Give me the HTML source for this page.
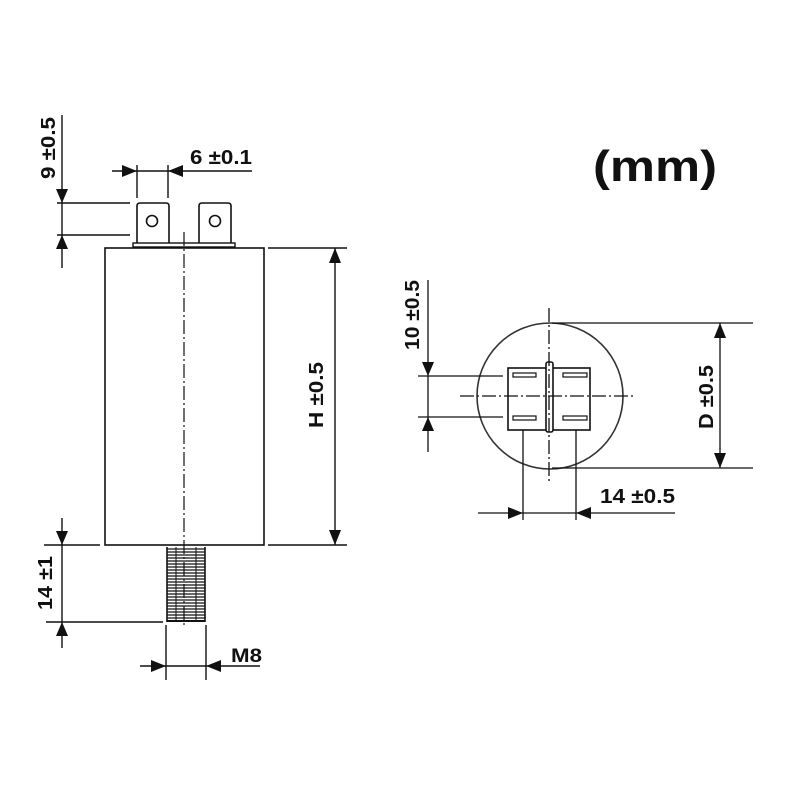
<!DOCTYPE html>
<html><head><meta charset="utf-8"><style>
html,body{margin:0;padding:0;background:#fff;}
svg{display:block;}
text{font-family:"Liberation Sans",sans-serif;font-weight:bold;fill:#111;}
</style></head><body>
<svg width="800" height="800" viewBox="0 0 800 800" xmlns="http://www.w3.org/2000/svg">
<g stroke="#111" stroke-width="1.6" fill="none">
<rect x="105" y="248" width="159" height="297"/>
<rect x="133" y="243" width="102" height="4" stroke-width="1.4"/>
<path d="M137 243 V206 Q137 203 140 203 H166 Q169 203 169 206 V243"/>
<path d="M199 243 V206 Q199 203 202 203 H228 Q231 203 231 206 V243"/>
<circle cx="152" cy="221" r="5.5"/>
<circle cx="215" cy="221" r="5.5"/>
<line x1="184" y1="232" x2="184" y2="625" stroke-width="1.2" stroke-dasharray="14,3,2,3"/>
<line x1="167" y1="547" x2="167" y2="622"/>
<line x1="205" y1="547" x2="205" y2="622"/>
<line x1="176" y1="547" x2="176" y2="622" stroke-width="1"/>
<line x1="196" y1="547" x2="196" y2="622" stroke-width="1"/>
</g>
<g stroke="#111" stroke-width="1.3">
<line x1="167" y1="549" x2="205" y2="549"/><line x1="167" y1="552" x2="205" y2="552"/><line x1="167" y1="555" x2="205" y2="555"/><line x1="167" y1="558" x2="205" y2="558"/><line x1="167" y1="561" x2="205" y2="561"/><line x1="167" y1="564" x2="205" y2="564"/><line x1="167" y1="567" x2="205" y2="567"/><line x1="167" y1="570" x2="205" y2="570"/><line x1="167" y1="573" x2="205" y2="573"/><line x1="167" y1="576" x2="205" y2="576"/><line x1="167" y1="579" x2="205" y2="579"/><line x1="167" y1="582" x2="205" y2="582"/><line x1="167" y1="585" x2="205" y2="585"/><line x1="167" y1="588" x2="205" y2="588"/><line x1="167" y1="591" x2="205" y2="591"/><line x1="167" y1="594" x2="205" y2="594"/><line x1="167" y1="597" x2="205" y2="597"/><line x1="167" y1="600" x2="205" y2="600"/><line x1="167" y1="603" x2="205" y2="603"/><line x1="167" y1="606" x2="205" y2="606"/><line x1="167" y1="609" x2="205" y2="609"/><line x1="167" y1="612" x2="205" y2="612"/><line x1="167" y1="615" x2="205" y2="615"/><line x1="167" y1="618" x2="205" y2="618"/><line x1="167" y1="621" x2="205" y2="621" stroke-width="2"/>
</g>
<g stroke="#111" stroke-width="1.4" fill="none">
<line x1="62" y1="115" x2="62" y2="268"/>
<line x1="57" y1="203" x2="130" y2="203"/>
<line x1="57" y1="235" x2="130" y2="235"/>
<line x1="112" y1="171" x2="252" y2="171"/>
<line x1="137" y1="165" x2="137" y2="198"/>
<line x1="168" y1="165" x2="168" y2="198"/>
<line x1="335" y1="248" x2="335" y2="545"/>
<line x1="268" y1="248" x2="347" y2="248"/>
<line x1="268" y1="545" x2="347" y2="545"/>
<line x1="62" y1="518" x2="62" y2="648"/>
<line x1="44" y1="545" x2="100" y2="545"/>
<line x1="46" y1="622" x2="163" y2="622"/>
<line x1="166" y1="625" x2="166" y2="680"/>
<line x1="206" y1="625" x2="206" y2="680"/>
<line x1="140" y1="666" x2="260" y2="666"/>
</g>
<g fill="#111">
<polygon points="62,203 56,189 68,189"/>
<polygon points="62,235 56,249 68,249"/>
<polygon points="137,171 122,165 122,177"/>
<polygon points="168,171 183,165 183,177"/>
<polygon points="335,248 329,263 341,263"/>
<polygon points="335,545 329,530 341,530"/>
<polygon points="62,545 56,531 68,531"/>
<polygon points="62,622 56,636 68,636"/>
<polygon points="166,666 151,660 151,672"/>
<polygon points="206,666 221,660 221,672"/>
</g>
<text x="0" y="0" font-size="20" transform="translate(55,148) rotate(-90)" text-anchor="middle" textLength="62" lengthAdjust="spacingAndGlyphs">9 ±0.5</text>
<text x="190" y="164" font-size="20" textLength="62" lengthAdjust="spacingAndGlyphs">6 ±0.1</text>
<text x="0" y="0" font-size="20" transform="translate(323,395) rotate(-90)" text-anchor="middle" textLength="66" lengthAdjust="spacingAndGlyphs">H ±0.5</text>
<text x="0" y="0" font-size="20" transform="translate(52,583) rotate(-90)" text-anchor="middle" textLength="54" lengthAdjust="spacingAndGlyphs">14 ±1</text>
<text x="231" y="662" font-size="19" textLength="31" lengthAdjust="spacingAndGlyphs">M8</text>
<text x="593" y="181" font-size="44" textLength="124" lengthAdjust="spacingAndGlyphs">(mm)</text>
<g stroke="#111" stroke-width="1.6" fill="none">
<circle cx="550" cy="396" r="73" stroke="#333"/>
<rect x="508" y="368" width="82" height="62"/>
<rect x="546" y="362" width="7" height="70" rx="2" fill="#fff"/>
<rect x="513" y="373" width="23" height="4" stroke-width="1.2"/>
<rect x="563" y="373" width="24" height="4" stroke-width="1.2"/>
<rect x="513" y="416" width="23" height="4" stroke-width="1.2"/>
<rect x="563" y="416" width="24" height="4" stroke-width="1.2"/>
</g>
<g stroke="#111" stroke-width="1.3" fill="none">
<line x1="460" y1="396" x2="636" y2="396" stroke-dasharray="14,3,2,3"/>
<line x1="549" y1="308" x2="549" y2="483" stroke-dasharray="14,3,2,3"/>
<line x1="428" y1="280" x2="428" y2="452"/>
<line x1="418" y1="376" x2="503" y2="376"/>
<line x1="418" y1="417" x2="503" y2="417"/>
<line x1="552" y1="323" x2="753" y2="323"/>
<line x1="552" y1="468" x2="753" y2="468"/>
<line x1="720" y1="323" x2="720" y2="468"/>
<line x1="478" y1="513" x2="675" y2="513"/>
<line x1="523" y1="430" x2="523" y2="520"/>
<line x1="576" y1="430" x2="576" y2="520"/>
</g>
<g fill="#111">
<polygon points="428,376 422,362 434,362"/>
<polygon points="428,417 422,431 434,431"/>
<polygon points="720,323 714,338 726,338"/>
<polygon points="720,468 714,453 726,453"/>
<polygon points="523,513 508,507 508,519"/>
<polygon points="576,513 591,507 591,519"/>
</g>
<text x="0" y="0" font-size="20" transform="translate(419,315) rotate(-90)" text-anchor="middle" textLength="70" lengthAdjust="spacingAndGlyphs">10 ±0.5</text>
<text x="0" y="0" font-size="20" transform="translate(713,397) rotate(-90)" text-anchor="middle" textLength="64" lengthAdjust="spacingAndGlyphs">D ±0.5</text>
<text x="600" y="503" font-size="20" textLength="75" lengthAdjust="spacingAndGlyphs">14 ±0.5</text>
</svg>
</body></html>
